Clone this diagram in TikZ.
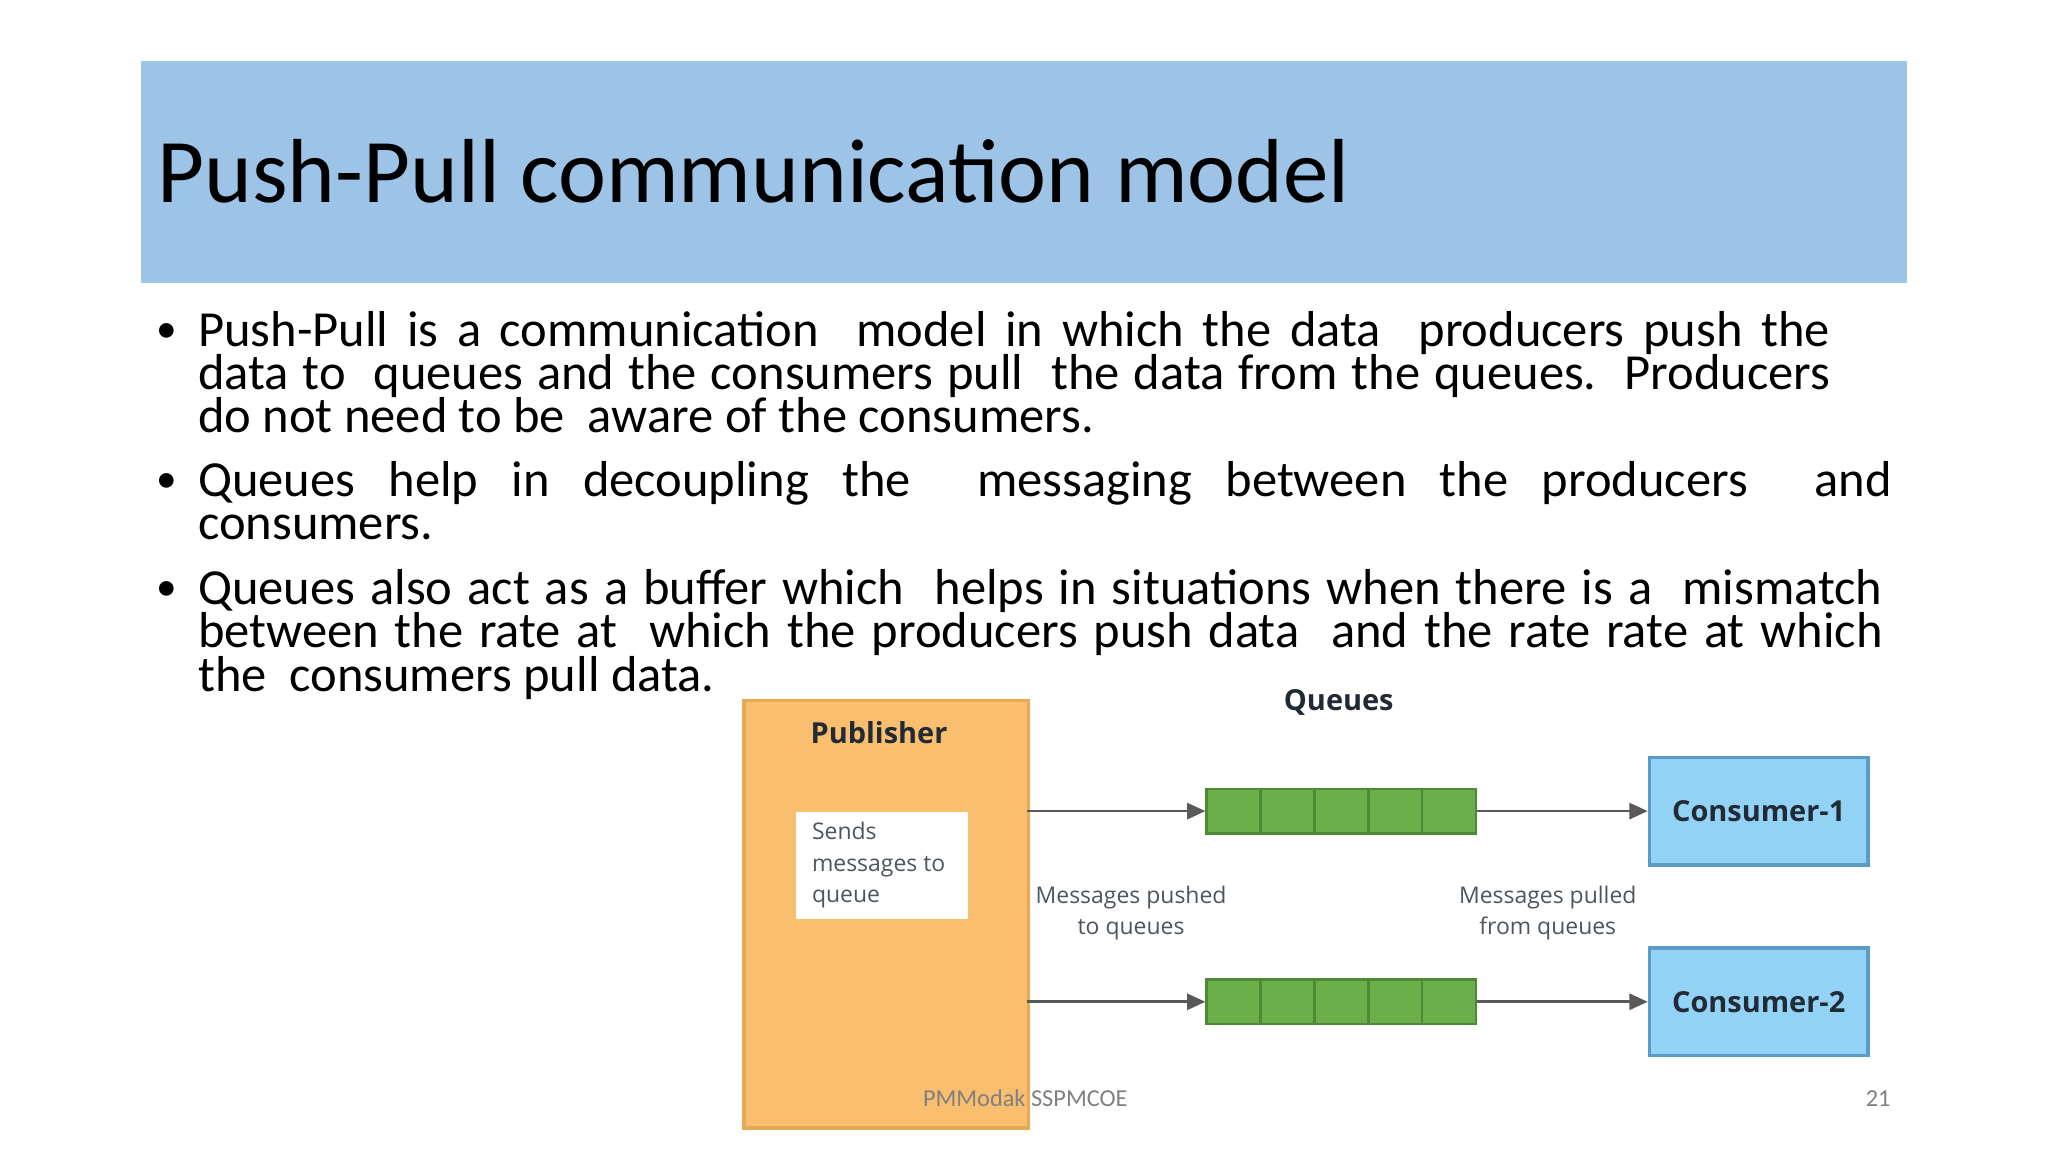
\documentclass[tikz,border=0pt]{standalone}
\usepackage{fontspec}
\setmainfont{Carlito}
\newfontfamily\dfont{Open Sans}
\usetikzlibrary{arrows.meta}
\newcommand\tightls{\lineskiplimit=-20pt\lineskip=0pt\relax}
\definecolor{band}{HTML}{9DC3E6}
\definecolor{pub}{HTML}{F9BE6E}
\definecolor{pubd}{HTML}{E8A955}
\definecolor{qg}{HTML}{6AAF4A}
\definecolor{qgd}{HTML}{4E8A36}
\definecolor{cb}{HTML}{92D3F5}
\definecolor{cbd}{HTML}{5A9BC8}
\definecolor{tx}{HTML}{222A35}
\begin{document}
\begin{tikzpicture}[x=0.01cm,y=-0.01cm,
  btext/.style={anchor=base west,inner sep=0,align=justify,font=\fontsize{11pt}{9.4pt}\selectfont\tightls},
  bul/.style={anchor=base,inner sep=0,font=\fontsize{9pt}{9pt}\selectfont},
  dlab/.style={font=\dfont\fontsize{5pt}{6.8pt}\selectfont,text=tx!80,inner sep=0,align=center},
  dbold/.style={font=\dfont\bfseries\fontsize{6.3pt}{7pt}\selectfont,text=tx,inner sep=0},
  cons/.style={draw=cbd,fill=cb,line width=0.8pt,minimum width=1.67cm,minimum height=0.82cm,dbold},
  cell/.style={draw=qgd,fill=qg,line width=0.6pt,minimum width=0.412cm,minimum height=0.34cm,inner sep=0},
  arr/.style={draw=black!65,line width=0.6pt,-{Triangle[length=4pt,width=3.5pt]}}]
\useasboundingbox (0,0) rectangle (1568,882);
\fill[band] (108,47) rectangle (1460,217);
\node[anchor=base west,inner sep=0,font=\fontsize{19.8pt}{24pt}\selectfont] (title) at (120,155) {Push-Pull communication model};
% bullets
\node[bul] (b1) at (128,262) {•};
\node[bul] (b2) at (128,377) {•};
\node[bul] (b3) at (128,460) {•};
\node[btext,text width=12.49cm] (t1) at (151,265) {Push-Pull is a communication\ \ model in which the data\ \ producers push the\linebreak data to\ \ queues and the consumers pull\ \ the data from the queues.\ \ Producers\linebreak do not need to be\ \ aware of the consumers.};
\node[btext,text width=12.96cm] (t2) at (151,380) {Queues help in decoupling the\ \ messaging between the producers\ \ and\linebreak consumers.};
\node[btext,text width=12.89cm] (t3) at (151,463) {Queues also act as a buffer which\ \ helps in situations when there is a\ \ mismatch\linebreak between the rate at\ \ which the producers push data\ \ and the rate rate at which\linebreak the\ \ consumers pull data.};
% diagram
\node[draw=pubd,fill=pub,line width=0.8pt,minimum width=2.18cm,minimum height=3.27cm,anchor=north west,inner sep=0] (pub) at (568,535) {};
\node[dbold] (publbl) at (673,561) {Publisher};
\node[fill=white,minimum width=1.31cm,minimum height=0.82cm,anchor=north west,inner sep=0] (send) at (609,621) {};
\node[dlab,anchor=north west,align=left] (sendt) at (621,629) {Sends\\messages to\\queue};
\node[dbold] (qlbl) at (1025,538) {Queues};
\foreach \r/\y in {1/621,2/767}{
  \foreach \i in {0,...,4}{
    \node[cell] (q\r c\i) at (944.6+41.2*\i,\y) {};
  }
}
\node[cons] (c1) at (1346.5,621) {Consumer-1};
\node[cons] (c2) at (1346.5,767) {Consumer-2};
\coordinate (s1) at (786,621);
\coordinate (s2) at (786,767);
\draw[arr] (s1) -- (q1c0.west);
\draw[arr] (s2) -- (q2c0.west);
\draw[arr] (q1c4.east) -- (c1.west);
\draw[arr] (q2c4.east) -- (c2.west);
\node[dlab] (push) at (866,699) {Messages pushed\\to queues};
\node[dlab] (pull) at (1185,699) {Messages pulled\\from queues};
% footer
\node[font=\fontsize{5.3pt}{6pt}\selectfont,text=black!50,inner sep=0] (foot) at (785,841) {PMModak SSPMCOE};
\node[font=\fontsize{5.3pt}{6pt}\selectfont,text=black!50,inner sep=0] (num) at (1438,841) {21};
\end{tikzpicture}
\end{document}
